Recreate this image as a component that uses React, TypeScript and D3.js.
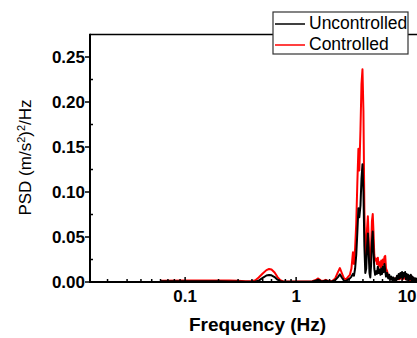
import React from "react";
import * as d3 from "d3";

const freq = [
  0.06, 0.1, 0.15, 0.2, 0.25, 0.3, 0.35, 0.4, 0.43, 0.46, 0.5, 0.54, 0.57, 0.6, 0.64, 0.68, 0.72, 0.76, 0.82, 0.9,
  1.0, 1.2, 1.4, 1.5, 1.58, 1.66, 1.75, 1.85, 1.95, 2.1, 2.25, 2.38, 2.48, 2.58, 2.7, 2.82, 2.95, 3.05, 3.15, 3.25,
  3.32, 3.4, 3.48, 3.56, 3.64, 3.71, 3.8, 3.88, 3.96, 4.04, 4.12, 4.2, 4.28, 4.36, 4.43, 4.5, 4.58, 4.66, 4.74, 4.82,
  4.9, 4.98, 5.06, 5.15, 5.25, 5.35, 5.45, 5.55, 5.65, 5.75, 5.85, 5.95, 6.05, 6.15, 6.25, 6.35, 6.45, 6.6, 6.75, 6.9,
  7.05, 7.2, 7.35, 7.5, 7.65, 7.8, 7.95, 8.1, 8.25, 8.4, 8.55, 8.7, 8.85, 9.0, 9.15, 9.3, 9.45, 9.6, 9.75, 9.9,
  10.05, 10.2, 10.35, 10.5, 10.65, 10.8, 10.95, 11.1, 11.25, 11.4, 11.55, 11.7, 11.85, 12.0, 12.2, 12.4, 12.6, 12.8, 13.0,
];

const uncontrolled = [
  0.0008, 0.0008, 0.0007, 0.0007, 0.0006, 0.0005, 0.0004, 0.0004, 0.0006, 0.0015, 0.0045, 0.0072, 0.0078, 0.0074, 0.0055, 0.0025, 0.0008, 0.0004, 0.0003, 0.0003,
  0.0003, 0.0003, 0.0005, 0.0015, 0.0025, 0.0012, 0.0008, 0.0018, 0.0008, 0.0005, 0.002, 0.0055, 0.0085, 0.005, 0.0015, 0.001, 0.003, 0.004, 0.006, 0.009,
  0.007, 0.015, 0.03, 0.055, 0.082, 0.072, 0.085, 0.115, 0.1307, 0.1, 0.04, 0.01, 0.015, 0.04, 0.054, 0.035, 0.01, 0.005, 0.02, 0.045,
  0.056, 0.035, 0.015, 0.008, 0.012, 0.009, 0.017, 0.01, 0.014, 0.008, 0.015, 0.009, 0.017, 0.011, 0.02, 0.013, 0.006, 0.01, 0.004, 0.008,
  0.003, 0.006, 0.002, 0.005, 0.001, 0.004, 0.002, 0.007, 0.003, 0.009, 0.004, 0.01, 0.005, 0.011, 0.004, 0.01, 0.006, 0.011, 0.003, 0.009,
  0.005, 0.008, 0.002, 0.007, 0.003, 0.008, 0.002, 0.006, 0.002, 0.005, 0.001, 0.004, 0.002, 0.004, 0.001, 0.003, 0.001, 0.002, 0.001,
];

const controlled = [
  0.0015, 0.0018, 0.0018, 0.0018, 0.0016, 0.0013, 0.0009, 0.0008, 0.002, 0.005, 0.0095, 0.0132, 0.0144, 0.0138, 0.0105, 0.0055, 0.002, 0.0008, 0.0006, 0.0005,
  0.0005, 0.0005, 0.0008, 0.0022, 0.004, 0.0018, 0.0012, 0.0024, 0.001, 0.0008, 0.004, 0.011, 0.0155, 0.01, 0.004, 0.003, 0.006, 0.008, 0.015, 0.033,
  0.02, 0.038, 0.065, 0.11, 0.148, 0.124, 0.17, 0.22, 0.2363, 0.19, 0.08, 0.024, 0.035, 0.06, 0.073, 0.05, 0.022, 0.017, 0.04, 0.068,
  0.0755, 0.055, 0.03, 0.024, 0.026, 0.02, 0.027, 0.018, 0.022, 0.016, 0.024, 0.017, 0.025, 0.02, 0.028, 0.029, 0.015, 0.012, 0.007, 0.006,
  0.005, 0.004, 0.003, 0.004, 0.002, 0.004, 0.003, 0.005, 0.003, 0.006, 0.003, 0.006, 0.004, 0.006, 0.003, 0.005, 0.004, 0.006, 0.003, 0.005,
  0.003, 0.005, 0.002, 0.004, 0.002, 0.004, 0.002, 0.004, 0.002, 0.003, 0.002, 0.003, 0.002, 0.003, 0.002, 0.002, 0.002, 0.002, 0.002,
];

const yTicks = [0, 0.05, 0.1, 0.15, 0.2, 0.25];
const yTickLabels = ["0.00", "0.05", "0.10", "0.15", "0.20", "0.25"];
const xTicks = [0.1, 1, 10];
const xTickLabels = ["0.1", "1", "10"];
const seriesNames = ["Uncontrolled", "Controlled"];
const seriesColors = ["#000000", "#ff0000"];

const W = 417;
const H = 338;
const left = 90;
const bottom = 282;
const top = 34.5;
const decade = 111;
const fMin = 0.0139;
const fMax = 13;

export default function App() {
  const x = d3.scaleLog().domain([fMin, fMax]).range([left, left + decade * Math.log10(fMax / fMin)]);
  const y = d3.scaleLinear().domain([0, 0.275]).range([bottom, top]);
  const right = x(fMax);

  const mkLine = (vals: number[]) =>
    d3
      .line<number>()
      .x((_, i) => x(freq[i]))
      .y((v) => y(v))
      .curve(d3.curveLinear)(vals) || "";

  const minorX: number[] = [];
  for (let e = -2; e <= 1; e++) {
    for (let m = 2; m <= 9; m++) {
      const v = m * Math.pow(10, e);
      if (v > fMin && v < fMax) minorX.push(v);
    }
  }
  const minorY = [0.025, 0.075, 0.125, 0.175, 0.225];

  const font = "'Liberation Sans', Arial, sans-serif";

  return (
    <svg
      width={W}
      height={H}
      style={{ position: "absolute", left: 0, top: 0, background: "#fff" }}
      fontFamily={font}
    >
      <defs>
        <clipPath id="plotclip">
          <rect x={left} y={top} width={right - left} height={bottom - top} />
        </clipPath>
      </defs>
      <rect x={0} y={0} width={W} height={H} fill="#fff" />

      <g clipPath="url(#plotclip)">
        <path d={mkLine(controlled)} fill="none" stroke={seriesColors[1]} strokeWidth={2} strokeLinejoin="round" />
        <path d={mkLine(uncontrolled)} fill="none" stroke={seriesColors[0]} strokeWidth={2} strokeLinejoin="round" />
      </g>

      {/* frame */}
      <line x1={left} x2={right} y1={top} y2={top} stroke="#000" strokeWidth={1.5} />
      <line x1={right} x2={right} y1={top} y2={bottom} stroke="#000" strokeWidth={1.5} />
      <line x1={left} x2={left} y1={top - 0.75} y2={bottom + 1} stroke="#000" strokeWidth={2} />
      <line x1={left - 1} x2={right} y1={bottom} y2={bottom} stroke="#000" strokeWidth={2} />

      {/* y ticks */}
      {yTicks.map((t, i) => (
        <g key={"yt" + i}>
          <line x1={left - 5} x2={left} y1={y(t)} y2={y(t)} stroke="#000" strokeWidth={1.5} />
          <text x={left - 5} y={y(t)} dy="0.36em" textAnchor="end" fontSize={17} fontWeight="bold">
            {yTickLabels[i]}
          </text>
        </g>
      ))}
      {minorY.map((t, i) => (
        <line key={"ym" + i} x1={left} x2={left + 3} y1={y(t)} y2={y(t)} stroke="#000" strokeWidth={1.5} />
      ))}

      {/* x ticks */}
      {xTicks.map((t, i) => (
        <g key={"xt" + i}>
          <line x1={x(t)} x2={x(t)} y1={bottom} y2={bottom - 5} stroke="#000" strokeWidth={1.5} />
          <text x={x(t)} y={302} textAnchor="middle" fontSize={17} fontWeight="bold">
            {xTickLabels[i]}
          </text>
        </g>
      ))}
      {minorX.map((t, i) => (
        <line key={"xm" + i} x1={x(t)} x2={x(t)} y1={bottom} y2={bottom - 3} stroke="#000" strokeWidth={1.5} />
      ))}

      {/* axis titles */}
      <text x={257.5} y={331} textAnchor="middle" fontSize={19} fontWeight="bold">
        Frequency (Hz)
      </text>
      <text transform="translate(31,157.5) rotate(-90)" textAnchor="middle" fontSize={17}>
        PSD (m/s
        <tspan baselineShift="super" fontSize={11}>2</tspan>
        <tspan>)</tspan>
        <tspan baselineShift="super" fontSize={11}>2</tspan>
        <tspan>/Hz</tspan>
      </text>

      {/* legend */}
      <rect x={273} y={12} width={135} height={42} fill="#fff" stroke="#333" strokeWidth={1.2} />
      {seriesNames.map((n, i) => (
        <g key={"lg" + i}>
          <line x1={275} x2={305} y1={24 + i * 21} y2={24 + i * 21} stroke={seriesColors[i]} strokeWidth={1.5} />
          <text x={309} y={29 + i * 21} fontSize={17.5}>
            {n}
          </text>
        </g>
      ))}
    </svg>
  );
}
